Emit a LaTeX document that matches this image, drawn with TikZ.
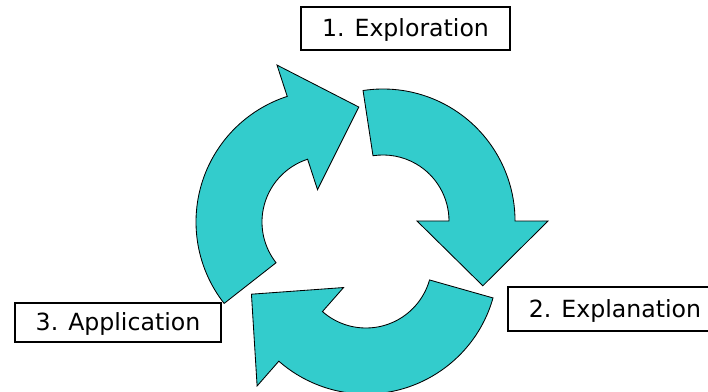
\documentclass[tikz,border=0pt]{standalone}
\usepackage{fontspec}
\setmainfont{DejaVu Sans}
\usepackage{xcolor}
\usepackage{tikz}
\usetikzlibrary{positioning}
\definecolor{cycleteal}{RGB}{51,204,204}

\begin{document}
\begin{tikzpicture}[x=0.025cm, y=0.025cm,
    stagebox/.style={draw, line width=1.5pt, inner xsep=0.52cm, inner ysep=0pt,
      text height=12pt, text depth=0pt, minimum height=1.08cm,
      font=\fontsize{16.8}{18}\selectfont},
    cyclearrow/.style={fill=cycleteal, draw=black, line width=0.6pt}]
  \useasboundingbox (0,0) rectangle (708,392);

  % Draw the three circular arrows (centre x/y, tail angle, head angle)
  \foreach \cx/\cy/\a/\b in {383/171/98.7/0, 328/170/218.1/108, 366/130/-15.8/-131.3} {
    \begin{scope}[shift={(\cx,\cy)}]
      \filldraw[cyclearrow]
        (\a:132) arc[start angle=\a, end angle=\b, radius=3.3cm]
        -- (\b:165) -- (\b-33:119) -- (\b:34) -- (\b:66)
        arc[start angle=\b, end angle=\a, radius=1.65cm] -- cycle;
    \end{scope}
  }

  % Labels
  \node[stagebox] (explore) at (405.5,363.5) {1. Exploration};
  \node[stagebox, anchor=west] (explain) at (507,83) {2. Explanation};
  \node[stagebox, minimum height=0.97cm] (apply) at (118,69.5) {3. Application};
\end{tikzpicture}
\end{document}
